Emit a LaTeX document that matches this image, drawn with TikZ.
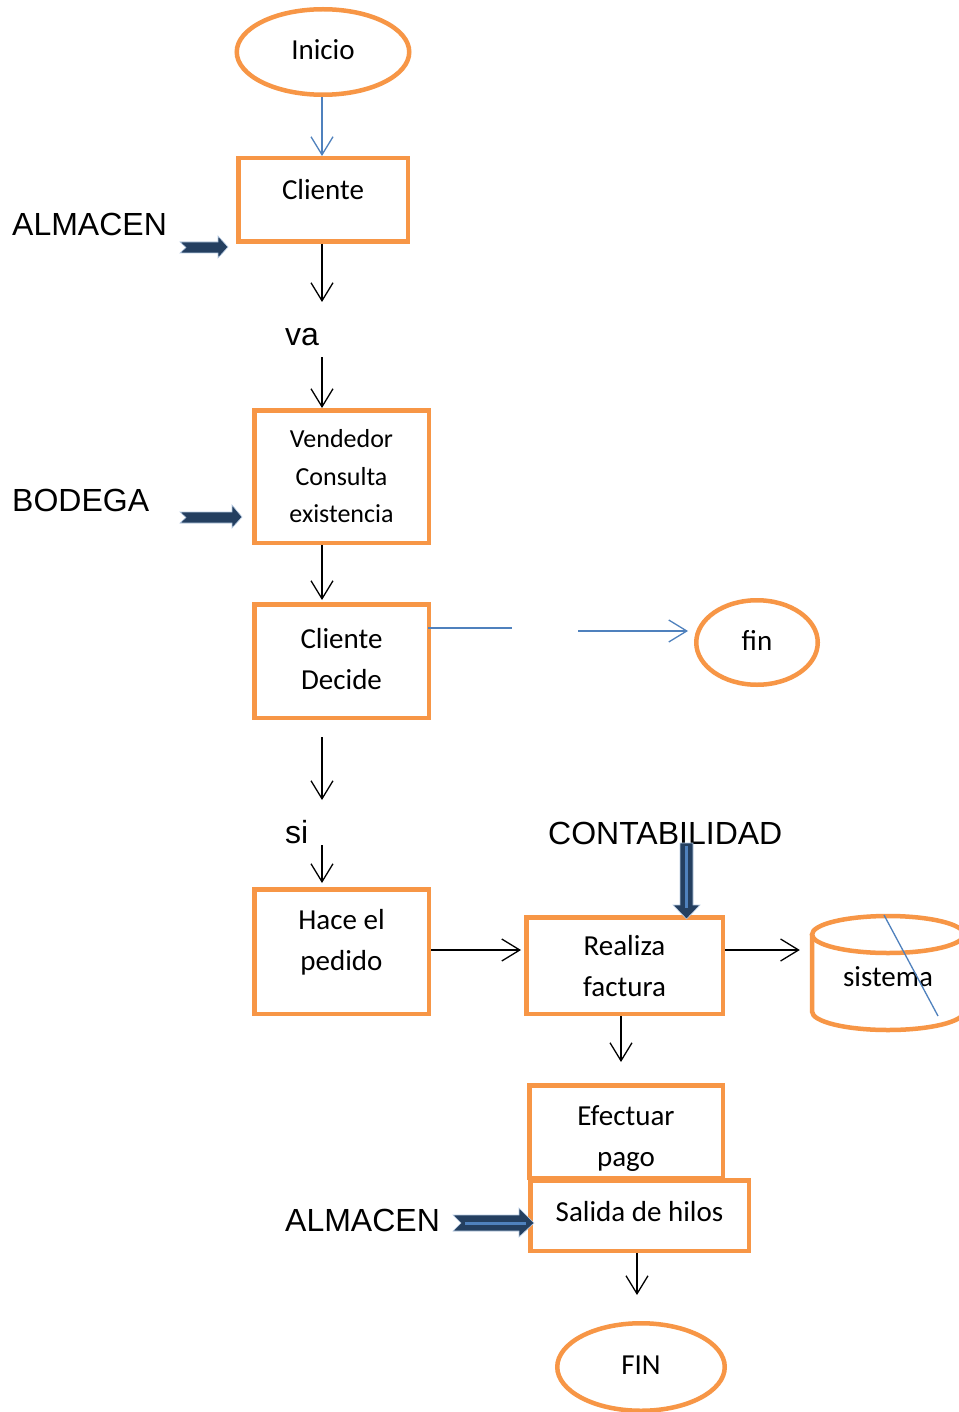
\documentclass[tikz,border=0pt]{standalone}
\usepackage{fontspec}
\setmainfont{Carlito}
\newfontfamily\arialf{Liberation Sans}
\usetikzlibrary{arrows.meta,shapes.geometric}
\definecolor{orangec}{HTML}{F79646}
\definecolor{bluec}{HTML}{4F81BD}
\definecolor{navyc}{HTML}{243F60}
\begin{document}
\begin{tikzpicture}[x=1pt,y=-1pt,
  box/.style={draw=orangec,line width=4.5pt,fill=white,rectangle,inner sep=0pt,align=center,
    font=\fontsize{29}{41}\selectfont},
  oval/.style={draw=orangec,line width=4.5pt,fill=white,ellipse,inner sep=0pt,align=center,
    font=\fontsize{29}{41}\selectfont},
  btext/.style={inner sep=0pt,align=center,font=\fontsize{29}{41}\selectfont},
  lbl/.style={inner sep=0pt,font=\arialf\fontsize{32}{38}\selectfont},
  arr/.style={draw=black,line width=1.3pt,-{Straight Barb[length=18pt,width=22pt,line width=1.3pt]}},
  barr/.style={draw=bluec,line width=1.3pt,-{Straight Barb[length=18pt,width=22pt,line width=1.3pt]}},
  bline/.style={draw=bluec,line width=1.3pt},
  blockarrow/.style={fill=navyc,draw=bluec!40!white,line width=0.6pt},
  innerline/.style={draw=bluec,line width=3pt}
]
\useasboundingbox (0,0) rectangle (958,1412);
\fill[white] (0,0) rectangle (958,1412);

% column coordinate
\coordinate (col) at (322,0);

% nodes
\node[oval,minimum width=172.5pt,minimum height=85.5pt,text depth=4pt] (inicio) at (323,52) {Inicio};
\node[box,minimum width=169.5pt,minimum height=83.5pt,text depth=22pt] (cliente) at (323,200) {Cliente};
\node[lbl,anchor=base west] (almacen1) at (12,236) {ALMACEN};
\node[lbl,anchor=base west] (va) at (285,345) {va};
\node[box,minimum width=174.5pt,minimum height=132.5pt,font=\fontsize{26}{37.5}\selectfont] (vendedor) at (341.5,476.5) {Vendedor\\Consulta\\existencia};
\node[lbl,anchor=base west] (bodega) at (12,511.5) {BODEGA};
\node[box,minimum width=174.5pt,minimum height=113.5pt,text depth=4pt] (decide) at (341.5,661) {Cliente\\Decide};
\node[oval,minimum width=121.5pt,minimum height=84.5pt,text depth=4pt] (fin) at (757,642.5) {fin};
\node[lbl,anchor=base west] (si) at (285,843) {si};
\node[box,minimum width=174.5pt,minimum height=124.5pt,text depth=24pt] (pedido) at (341.5,951.5) {Hace el\\pedido};
\node[lbl,anchor=base west] (contab) at (548,844.5) {CONTABILIDAD};
\node[box,minimum width=196.5pt,minimum height=96.5pt,text depth=-5pt] (factura) at (624.5,965.5) {Realiza\\factura};

% cylinder "sistema"
\begin{scope}[draw=orangec,line width=4.5pt]
  \draw[fill=white] (812,934.5) -- (812,1011.5) arc[start angle=180,end angle=0,x radius=76,y radius=18.5]
     -- (964,934.5);
  \draw (888,934.5) ellipse[x radius=76,y radius=18.5];
\end{scope}
\node[btext,minimum width=152pt,minimum height=114pt] (sis) at (888,976.5) {sistema};
\coordinate (s1) at (884,915);
\coordinate (s2) at (938,1016);
\draw[bline] (s1) -- (s2);

\node[box,minimum width=193.5pt,minimum height=92.5pt] (pago) at (626,1131.5) {};
\node[btext,text depth=-10pt] (pagotxt) at (626,1136.5) {Efectuar\\pago};
\node[box,minimum width=218.5pt,minimum height=70.5pt,text depth=8pt] (salida) at (639.5,1215.5) {Salida de hilos};
\node[lbl,anchor=base west] (almacen2) at (285,1231.5) {ALMACEN};
\node[oval,minimum width=167.5pt,minimum height=87.5pt,text depth=4pt] (FIN) at (641,1367) {FIN};

% connectors
\draw[barr] (inicio.south -| col) -- (cliente.north -| col);
\coordinate (a1e) at (322,302);
\draw[arr] (cliente.south -| col) -- (a1e);
\coordinate (a2s) at (322,357);
\draw[arr] (a2s) -- (vendedor.north -| col);
\draw[arr] (vendedor.south -| col) -- ([yshift=2pt]decide.north -| col);
\coordinate (a4s) at (322,737);
\coordinate (a4e) at (322,800);
\draw[arr] (a4s) -- (a4e);
\coordinate (a5s) at (322,845);
\draw[arr] (a5s) -- ([yshift=4pt]pedido.north -| col);

\coordinate (d1) at (512,628);
\draw[bline] ([xshift=-3pt]decide.east |- d1) -- (d1);
\coordinate (d2) at (578,631);
\draw[barr,shorten >=6pt] (d2) -- (fin.west |- d2);

\coordinate (h) at (0,950);
\draw[arr,shorten >=3pt] (pedido.east |- h) -- (factura.west |- h);
\draw[arr,shorten >=12pt] (factura.east |- h) -- (sis.west |- h);
\coordinate (fcol) at (621,0);
\draw[arr,shorten >=21pt] (factura.south -| fcol) -- (pago.north -| fcol);
\coordinate (gcol) at (637,0);
\draw[arr,shorten >=26pt] (salida.south -| gcol) -- (FIN.north -| gcol);

% block arrows
\draw[blockarrow] (180,242) -- (218,242) -- (218,236) -- (228,247) -- (218,258) -- (218,253) -- (180,253) -- (186,247.5) -- cycle;
\draw[blockarrow] (180,512) -- (232,512) -- (232,505) -- (242,517) -- (232,528) -- (232,523) -- (180,523) -- (186,517.5) -- cycle;
\draw[blockarrow] (680,843) -- (693,843) -- (693,905) -- (700,905) -- (686.5,919) -- (673,905) -- (680,905) -- cycle;
\draw[innerline] (686.5,846) -- (686.5,908);
\draw[blockarrow] (453,1215) -- (519,1215) -- (519,1208) -- (534,1223) -- (519,1237) -- (519,1231) -- (453,1231) -- (461,1223) -- cycle;
\draw[innerline] (465,1223) -- (526,1223);
\end{tikzpicture}
\end{document}
